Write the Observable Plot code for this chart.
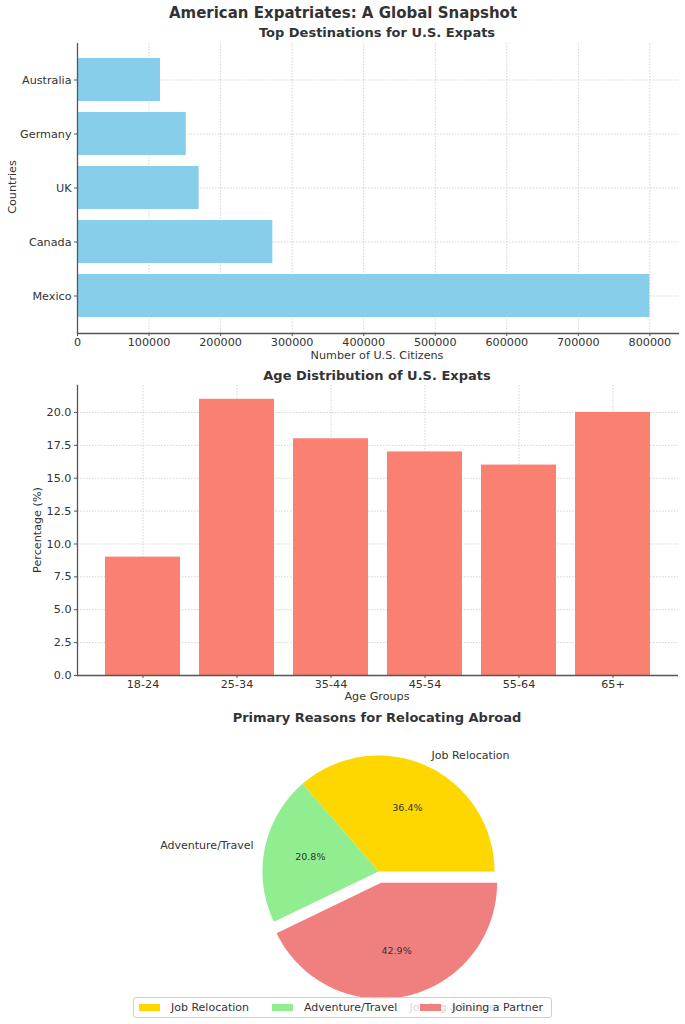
<!DOCTYPE html>
<html><head><meta charset="utf-8">
<script src="https://cdn.jsdelivr.net/npm/d3@7"></script>
<script src="https://cdn.jsdelivr.net/npm/@observablehq/plot@0.6"></script>
<style>
body{margin:0;background:#fff;font-family:"DejaVu Sans",sans-serif;color:#333}
#page{position:relative;width:685px;height:1024px;overflow:hidden;background:#fff}
.t{position:absolute;transform:translate(-50%,-50%);white-space:nowrap;line-height:1}
.b{font-weight:bold}
.panel{position:absolute;left:0}
.legend{position:absolute;left:133px;top:997px;width:419px;height:21px;box-sizing:border-box;border:1px solid #d0d0d0;border-radius:3px;background:rgba(255,255,255,0.8);display:flex;align-items:center;font-size:11px;color:#333}
.sw{width:21px;height:7px;display:inline-block;margin-right:11px}
.item{display:flex;align-items:center;white-space:nowrap}
</style></head><body><div id="page"></div>
<script>
// ---- data ----
const countries = ["Mexico", "Canada", "UK", "Germany", "Australia"];
const expatCounts = [800000, 273000, 170000, 152000, 116000];
const countTicks = [0, 100000, 200000, 300000, 400000, 500000, 600000, 700000, 800000];

const ageGroups = ["18-24", "25-34", "35-44", "45-54", "55-64", "65+"];
const agePercents = [9, 21, 18, 17, 16, 20];
const percentTicks = [0, 2.5, 5, 7.5, 10, 12.5, 15, 17.5, 20];

const reasons = ["Job Relocation", "Adventure/Travel", "Joining a Partner"];
const reasonCounts = [28, 16, 33];
const reasonColors = ["#FFD700", "#90EE90", "#F08080"];
const reasonExplode = [0, 0, 0.1];

// ---- styles ----
const TXT = "#333";
const SPINE = "#555";
const GRID = "#c8c8c8";
const FS = 11.2;
const font = {fontFamily: "DejaVu Sans", fontSize: FS + "px", color: TXT, background: "transparent", overflow: "visible"};
const page = document.getElementById("page");

function addText(txt, x, y, size, bold, rotate) {
  const d = document.createElement("div");
  d.className = "t" + (bold ? " b" : "");
  d.textContent = txt;
  d.style.left = x + "px"; d.style.top = y + "px"; d.style.fontSize = size + "px";
  if (rotate) d.style.transform = "translate(-50%,-50%) rotate(-90deg)";
  page.appendChild(d);
}
function addPanel(svg, top) {
  svg.classList.add("panel");
  svg.style.top = top + "px";
  page.appendChild(svg);
}

// ---- panel 1: horizontal bars ----
const destRows = countries.map((c, i) => ({country: c, count: expatCounts[i]}));
const p1 = Plot.plot({
  width: 685, height: 330,
  marginLeft: 77, marginRight: 7, marginTop: 7, marginBottom: 33,
  style: font,
  x: {domain: [0, d3.max(expatCounts) * 1.05]},
  y: {domain: countries.slice().reverse(), paddingInner: 0.2, paddingOuter: 0.24},
  marks: [
    Plot.gridX(countTicks, {stroke: GRID, strokeOpacity: 1, strokeWidth: 0.8, strokeDasharray: "1.5,1.5"}),
    Plot.gridY({stroke: GRID, strokeOpacity: 1, strokeWidth: 0.8, strokeDasharray: "1.5,1.5"}),
    Plot.barX(destRows, {x: "count", y: "country", fill: "#87CEEB"}),
    Plot.axisX(countTicks, {tickFormat: d => String(d), tickSize: 3, tickPadding: 1.5, label: null, stroke: SPINE, fill: TXT}),
    Plot.axisY({tickSize: 3, tickPadding: 3, label: null, stroke: SPINE, fill: TXT}),
    Plot.ruleX([0], {stroke: SPINE, strokeWidth: 1.3}),
    Plot.frame({anchor: "bottom", stroke: SPINE, strokeWidth: 1.3})
  ]
});
addPanel(p1, 36);

// ---- panel 2: vertical bars ----
const ageRows = ageGroups.map((g, i) => ({group: g, pct: agePercents[i]}));
const p2 = Plot.plot({
  width: 685, height: 334,
  marginLeft: 77, marginRight: 7, marginTop: 19, marginBottom: 25,
  style: font,
  x: {domain: ageGroups, paddingInner: 0.2, paddingOuter: 0.29},
  y: {domain: [0, d3.max(agePercents) * 1.05]},
  marks: [
    Plot.gridY(percentTicks, {stroke: GRID, strokeOpacity: 1, strokeWidth: 0.8, strokeDasharray: "1.5,1.5"}),
    Plot.gridX({stroke: GRID, strokeOpacity: 1, strokeWidth: 0.8, strokeDasharray: "1.5,1.5"}),
    Plot.barY(ageRows, {x: "group", y: "pct", fill: "#FA8072"}),
    Plot.axisY(percentTicks, {tickFormat: d3.format(".1f"), tickSize: 3, tickPadding: 3, label: null, stroke: SPINE, fill: TXT}),
    Plot.axisX({tickSize: 3, tickPadding: 1.5, label: null, stroke: SPINE, fill: TXT}),
    Plot.frame({anchor: "left", stroke: SPINE, strokeWidth: 1.3}),
    Plot.ruleY([0], {stroke: SPINE, strokeWidth: 1.3})
  ]
});
addPanel(p2, 366);

// ---- panel 3: pie ----
const arcs = d3.pie().sort(null)(reasonCounts); // angles measured counter-clockwise from +x
const total = d3.sum(reasonCounts);
const slices = arcs.map((a, i) => {
  const mid = (a.startAngle + a.endAngle) / 2;
  const ox = reasonExplode[i] * Math.cos(mid), oy = reasonExplode[i] * Math.sin(mid);
  const pts = [{x: ox, y: oy}];
  const n = Math.max(2, Math.ceil((a.endAngle - a.startAngle) / (Math.PI / 180)));
  for (let k = 0; k <= n; k++) {
    const t = a.startAngle + (a.endAngle - a.startAngle) * k / n;
    pts.push({x: ox + Math.cos(t), y: oy + Math.sin(t)});
  }
  pts.push({x: ox, y: oy});
  return {
    name: reasons[i], color: reasonColors[i], pts,
    lx: ox + 1.1 * Math.cos(mid), ly: oy + 1.1 * Math.sin(mid),
    px: ox + 0.6 * Math.cos(mid), py: oy + 0.6 * Math.sin(mid),
    right: Math.cos(mid) >= 0,
    pct: (100 * reasonCounts[i] / total).toFixed(1) + "%"
  };
});
const p3 = Plot.plot({
  width: 685, height: 324,
  marginLeft: 262, marginRight: 191, marginTop: 55, marginBottom: 37,
  style: font,
  x: {domain: [-1, 1], axis: null},
  y: {domain: [-1, 1], axis: null},
  marks: [
    ...slices.map(s => Plot.line(s.pts, {x: "x", y: "y", fill: s.color, stroke: "none"})),
    Plot.text(slices.filter(s => s.right), {x: "lx", y: "ly", text: "name", textAnchor: "start", fill: TXT, fontSize: 11}),
    Plot.text(slices.filter(s => !s.right), {x: "lx", y: "ly", text: "name", textAnchor: "end", fill: TXT, fontSize: 11}),
    Plot.text(slices, {x: "px", y: "py", text: "pct", fill: TXT, fontSize: 9.5})
  ]
});
addPanel(p3, 700);

// ---- titles and axis labels ----
addText("American Expatriates: A Global Snapshot", 343, 13, 15, true);
addText("Top Destinations for U.S. Expats", 377, 32, 13, true);
addText("Number of U.S. Citizens", 377, 356, FS);
addText("Countries", 13, 187, FS, false, true);
addText("Age Distribution of U.S. Expats", 377, 375, 13, true);
addText("Percentage (%)", 38, 530, FS, false, true);
addText("Age Groups", 377, 697, FS);
addText("Primary Reasons for Relocating Abroad", 377, 717, 13, true);

// ---- legend ----
const lg = document.createElement("div");
lg.className = "legend";
reasons.forEach((r, i) => {
  const it = document.createElement("div");
  it.className = "item";
  it.style.marginLeft = i === 0 ? "5px" : "23px";
  const sw = document.createElement("span");
  sw.className = "sw"; sw.style.background = reasonColors[i];
  const tx = document.createElement("span");
  tx.textContent = r;
  it.appendChild(sw); it.appendChild(tx);
  lg.appendChild(it);
});
page.appendChild(lg);
</script>
</body></html>
